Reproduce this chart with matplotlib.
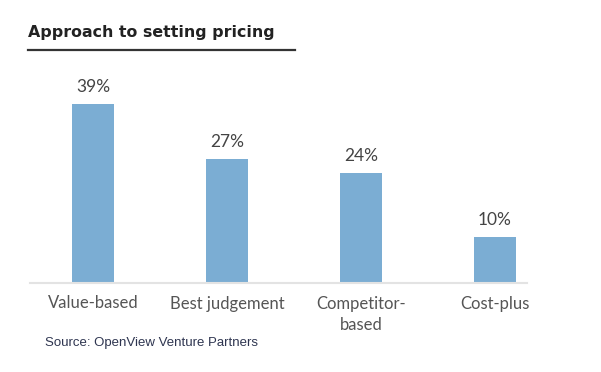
import matplotlib.pyplot as plt

# data
categories = ["Value-based", "Best judgement", "Competitor-\nbased", "Cost-plus"]
shares = [39, 27, 24, 10]
labels = ["39%", "27%", "24%", "10%"]

W, H = 601, 372
fig = plt.figure(figsize=(W / 100, H / 100), dpi=100)

# axes placed in pixel terms: x from 30 to 527 px, baseline at 283 px
left, right = 30, 527
base, top = 283, 60
ax = fig.add_axes([left / W, (H - base) / H, (right - left) / W, (base - top) / H])

x = list(range(len(categories)))
ax.bar(x, shares, width=0.315, color="#7badd3", zorder=2)
ax.set_xlim(-0.47, 3.24)
ax.set_ylim(0, (base - top) / 4.59)

for xi, v, lab in zip(x, shares, labels):
    ax.text(xi, v + 1.9, lab, ha="center", va="bottom", fontsize=12.5,
            color="#444444", family="Lato")

ax.set_yticks([])
ax.set_xticks(x)
ax.set_xticklabels(categories, fontsize=12, color="#555555", family="Lato",
                   va="top", linespacing=1.4)
ax.tick_params(axis="x", length=0, pad=9)
for s in ["top", "left", "right"]:
    ax.spines[s].set_visible(False)
ax.spines["bottom"].set_color("#e3e3e3")
ax.spines["bottom"].set_linewidth(1.5)

# title and underline
fig.text(28 / W, 1 - 32 / H, "Approach to setting pricing", fontsize=11.4,
         fontweight="bold", color="#222222", family="DejaVu Sans", va="center", ha="left")
fig.add_artist(plt.Line2D([28 / W, 295 / W], [1 - 50 / H, 1 - 50 / H],
                          color="#333333", linewidth=1.6))

fig.text(45 / W, 1 - 343 / H, "Source: OpenView Venture Partners", fontsize=9.5,
         color="#2e3550", family="Liberation Sans", va="center", ha="left")

fig.savefig("out.png", dpi=100)
